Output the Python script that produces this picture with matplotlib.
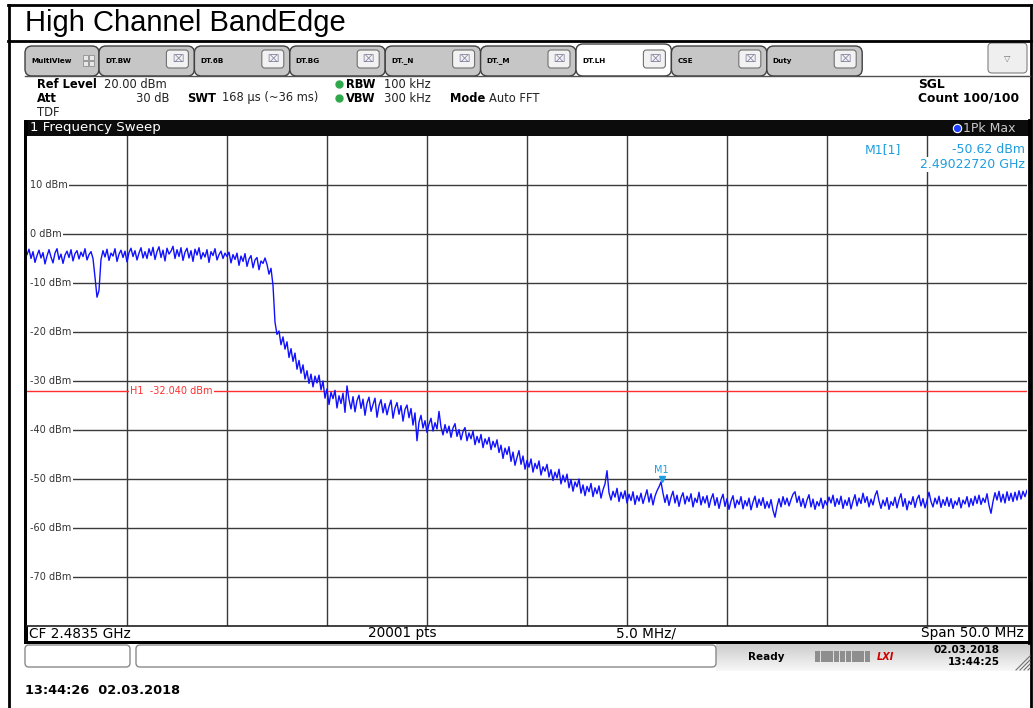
import matplotlib
matplotlib.use("Agg")
import matplotlib.pyplot as plt
import numpy as np
from matplotlib.patches import Rectangle, FancyBboxPatch
from matplotlib.transforms import blended_transform_factory

# ==== Sweep settings ====
START_GHZ = 2.4585
STOP_GHZ = 2.5085
REF_LEVEL = 20.0
BOTTOM_LEVEL = -80.0
GRID_LEVELS = [10, 0, -10, -20, -30, -40, -50, -60, -70]
GRID_LABELS = ["10 dBm", "0 dBm", "-10 dBm", "-20 dBm", "-30 dBm",
               "-40 dBm", "-50 dBm", "-60 dBm", "-70 dBm"]
H1_LEVEL = -32.04
M1_FREQ_GHZ = 2.49022720
M1_LEVEL = -50.62

# trace level, one value every 0.1 MHz across the 50 MHz span
TRACE_DBM = [
    -4.2, -3.1, -5.0, -3.6, -5.8, -4.4, -3.3, -4.9, -3.8, -6.1, -4.5, -3.2, -4.7, -5.9, -3.9, -3.0, -5.2, -4.1, -6.0, -4.3,
    -3.5, -4.8, -3.2, -5.5, -4.0, -3.4, -5.1, -3.7, -4.6, -3.0, -5.3, -4.2, -3.6, -5.0, -8.8, -12.9, -11.5, -5.2, -3.4, -4.7,
    -3.1, -5.4, -3.9, -4.5, -3.0, -5.6, -4.1, -3.3, -4.8, -3.5, -5.7, -3.8, -2.9, -4.6, -3.4, -5.3, -3.9, -2.8, -4.9, -3.6,
    -5.0, -3.0, -4.4, -2.7, -5.2, -3.6, -2.6, -4.8, -3.3, -5.5, -2.9, -4.1, -3.5, -2.5, -5.0, -3.2, -4.6, -2.8, -5.4, -3.7,
    -2.9, -4.9, -3.4, -5.6, -3.1, -4.3, -2.8, -5.1, -3.8, -4.7, -3.2, -5.8, -3.6, -4.4, -3.0, -5.3, -4.2, -3.5, -5.0, -3.9,
    -4.6, -3.7, -5.9, -4.2, -5.2, -3.9, -6.4, -4.5, -5.6, -4.0, -6.6, -5.1, -4.4, -6.9, -5.3, -4.8, -7.3, -5.5, -6.0, -4.9,
    -6.2, -8.2, -7.0, -10.5, -18.0, -20.5, -19.8, -22.6, -21.0, -23.5, -22.0, -25.2, -23.4, -26.0, -24.3, -27.6, -25.8, -28.4, -26.7, -29.6,
    -27.9, -30.5, -28.6, -31.2, -29.0, -30.4, -28.8, -31.8, -30.0, -33.5, -31.6, -34.8, -32.3, -33.6, -31.9, -35.5, -33.0, -34.6, -32.5, -36.4,
    -31.0, -33.8, -35.7, -33.2, -36.3, -34.0, -32.9, -35.6, -33.7, -37.0, -34.5, -33.3, -36.2, -34.8, -33.5, -37.4, -35.0, -33.8, -36.5, -34.6,
    -36.9, -35.2, -33.9, -37.6, -35.5, -34.4, -36.8, -35.0, -38.2, -35.8, -34.9, -37.5, -35.6, -39.0, -36.5, -42.2, -38.4, -37.0, -39.6, -38.1,
    -40.5, -38.8, -37.6, -40.2, -38.5, -39.8, -36.2, -39.4, -41.0, -38.9, -40.6, -39.2, -41.5, -39.6, -38.7, -41.3, -39.9, -42.0, -40.3, -39.5,
    -42.2, -40.6, -41.8, -40.2, -43.0, -41.3, -42.6, -40.9, -43.6, -41.8, -42.9, -41.5, -44.0, -42.3, -43.5, -42.0, -44.6, -43.1, -45.8, -43.7,
    -45.0, -43.4, -46.4, -44.5, -47.2, -45.6, -44.2, -47.0, -45.3, -48.0, -46.2, -47.6, -45.9, -48.6, -46.8, -47.9, -46.3, -49.2, -47.5, -48.4,
    -47.0, -49.6, -48.1, -50.3, -48.6, -49.8, -48.0, -51.0, -49.2, -50.6, -49.0, -51.8, -50.1, -52.5, -50.6, -51.6, -50.0, -52.9, -51.2, -53.4,
    -51.5, -52.6, -50.9, -53.6, -51.8, -53.0, -51.4, -53.9, -52.2, -51.0, -48.3, -52.8, -54.3, -52.5, -53.7, -51.9, -54.6, -52.7, -54.0, -52.4,
    -54.9, -53.1, -54.4, -52.6, -55.2, -53.4, -54.5, -52.9, -55.0, -53.6, -52.2, -54.7, -53.0, -55.3, -53.5, -52.4, -51.6, -50.6, -52.9, -54.8,
    -53.2, -55.4, -53.7, -52.5, -54.9, -53.3, -55.6, -53.8, -52.8, -55.1, -53.5, -54.6, -53.0, -55.7, -53.9, -54.8, -52.7, -55.3, -53.6, -54.9,
    -53.4, -55.8, -54.1, -53.0, -55.4, -53.8, -56.0, -54.2, -53.1, -55.6, -54.0, -56.2, -54.5, -53.4, -55.9, -54.3, -55.2, -53.6, -56.1, -54.4,
    -55.5, -53.9, -56.3, -54.7, -53.5, -55.8, -54.1, -55.4, -53.8, -56.0, -54.6, -55.9, -54.2, -56.4, -57.8, -55.6, -54.0, -55.7, -53.6, -55.2,
    -53.9, -55.5, -54.2, -53.1, -52.6, -54.8, -53.5, -55.6, -54.0, -55.9, -54.3, -53.2, -55.7, -54.1, -56.2, -54.6, -55.5, -53.9, -56.0, -54.4,
    -55.3, -53.7, -54.9, -53.3, -55.6, -54.0, -55.2, -53.5, -56.0, -54.3, -55.4, -53.8, -56.1, -54.5, -53.2, -55.5, -53.9, -55.0, -52.9, -54.8,
    -53.6, -55.7, -54.1, -55.3, -53.4, -52.4, -54.5, -56.0, -54.3, -55.5, -53.8, -56.2, -54.6, -55.4, -53.7, -55.9, -54.2, -53.0, -55.6, -54.0,
    -56.3, -54.5, -55.2, -53.6, -55.8, -54.1, -53.3, -55.5, -54.0, -55.9, -54.4, -52.7, -54.6, -55.7, -53.9, -55.1, -53.5, -55.8, -54.2, -55.4,
    -53.7, -55.6, -54.0, -56.0, -54.5, -55.3, -53.8, -55.9, -54.3, -55.1, -53.6, -55.7, -54.0, -55.4, -53.5, -55.0, -53.3, -55.2, -53.9, -54.8,
    -53.0, -55.4, -57.0, -54.6, -52.8, -54.3, -52.5, -54.7, -53.1, -54.9, -52.6, -54.4, -52.9, -54.6, -52.7, -54.3, -52.4, -54.1, -52.5, -53.6,
    -52.3,
]

TABS = ["DT.BW", "DT.6B", "DT.BG", "DT._N", "DT._M", "DT.LH", "CSE", "Duty"]
ACTIVE_TAB = "DT.LH"

# ==== Colours ====
TRACE_BLUE = "#1010ff"
MARKER_BLUE = "#1e9ee0"
H1_RED = "#ff3030"
GRID_GRAY = "#3a3a3a"
LABEL_GRAY = "#333333"

W, H = 1033, 708
fig = plt.figure(figsize=(W / 100, H / 100), dpi=100)
fig.patch.set_facecolor("white")

# ==== Screen chrome, drawn in pixel coordinates ====
bg = fig.add_axes([0, 0, 1, 1])
bg.set_xlim(0, W)
bg.set_ylim(H, 0)
bg.axis("off")

UI = "DejaVu Sans"

# outer frame and title row
bg.plot([8.5, 8.5], [5, H], color="black", lw=2)
bg.plot([8, 1031], [5, 5], color="black", lw=2)
bg.plot([8, 1031], [40.5, 40.5], color="black", lw=2)
bg.plot([1031, 1031], [5, H], color="black", lw=2)
bg.text(25, 23, "High Channel BandEdge", fontsize=21, family="Liberation Sans",
        va="center", ha="left", color="black")

# tab bar
bg.plot([25, 1030], [75.5, 75.5], color="#505050", lw=1)


def draw_tab(x0, x1, label, active=False):
    face = "white" if active else "#c6c6c6"
    top = 44 if active else 46
    bg.add_patch(FancyBboxPatch((x0, top), x1 - x0, 76 - top,
                                boxstyle="round,pad=0,rounding_size=7",
                                facecolor=face, edgecolor="#404040", lw=1))
    bg.text(x0 + 6, 61, label, fontsize=5.2, fontweight="bold", family=UI,
            va="center", ha="left", color="black")


draw_tab(25, 99, "MultiView")
for dx in (0, 6):
    for dy in (0, 6):
        bg.add_patch(Rectangle((83 + dx, 55 + dy), 5, 5, facecolor="#e8e8e8",
                               edgecolor="#909090", lw=0.6))

tab_w = 95.4
for i, name in enumerate(TABS):
    x0 = 99 + i * tab_w
    x1 = x0 + tab_w
    draw_tab(x0, x1, name, active=(name == ACTIVE_TAB))
    bx = x1 - 28
    bg.add_patch(FancyBboxPatch((bx, 50), 22, 18,
                                boxstyle="round,pad=0,rounding_size=3",
                                facecolor="#f2f2f2", edgecolor="#707070", lw=0.8))
    bg.text(bx + 11, 59, "\u2327", fontsize=7, family=UI, color="#7a7a9a",
            ha="center", va="center")

bg.add_patch(FancyBboxPatch((988, 43), 39, 30,
                            boxstyle="round,pad=0,rounding_size=4",
                            facecolor="#efefef", edgecolor="#808080", lw=0.8))
bg.text(1007.5, 58, "\u25bd", fontsize=6, family=UI, color="#707070",
        ha="center", va="center")

# setup header
HDR = 8.3
bg.text(37, 84, "Ref Level", fontsize=HDR, fontweight="bold", family=UI, va="center")
bg.text(104, 84, "20.00 dBm", fontsize=HDR, family=UI, va="center", color="#222222")
bg.text(37, 98, "Att", fontsize=HDR, fontweight="bold", family=UI, va="center")
bg.text(170, 98, "30 dB", fontsize=HDR, family=UI, va="center", ha="right", color="#222222")
bg.text(37, 112, "TDF", fontsize=HDR, family=UI, va="center", color="#222222")
bg.text(187, 98, "SWT", fontsize=HDR, fontweight="bold", family=UI, va="center")
bg.text(222, 98, "168 \u00b5s (~36 ms)", fontsize=HDR, family=UI, va="center", color="#222222")
bg.plot([339, 339], [84, 98], ls="none", marker="o", ms=5, color="#2ea84a")
bg.text(346, 84, "RBW", fontsize=HDR, fontweight="bold", family=UI, va="center")
bg.text(384, 84, "100 kHz", fontsize=HDR, family=UI, va="center", color="#222222")
bg.text(346, 98, "VBW", fontsize=HDR, fontweight="bold", family=UI, va="center")
bg.text(384, 98, "300 kHz", fontsize=HDR, family=UI, va="center", color="#222222")
bg.text(450, 98, "Mode", fontsize=HDR, fontweight="bold", family=UI, va="center")
bg.text(489, 98, "Auto FFT", fontsize=HDR, family=UI, va="center", color="#222222")
bg.text(918, 84, "SGL", fontsize=8.8, fontweight="bold", family=UI, va="center")
bg.text(918, 98, "Count 100/100", fontsize=8.8, fontweight="bold", family=UI, va="center")

# window title bar
bg.add_patch(Rectangle((24, 120), 1006, 16, facecolor="#0c0c0c", edgecolor="none"))
bg.text(30, 128, "1 Frequency Sweep", fontsize=9.6, family=UI, color="white", va="center")
bg.plot([957], [128], marker="o", ms=6, color="#2040ff", mec="white", mew=0.8)
bg.text(963, 128, "1Pk Max", fontsize=9, family=UI, color="#c8c8c8", va="center")

# frame around the diagram
bg.add_patch(Rectangle((24, 120), 4, 523, facecolor="black", edgecolor="none"))
bg.plot([1029, 1029], [120, 643], color="black", lw=2)
bg.add_patch(Rectangle((24, 640.5), 1006, 3, facecolor="black", edgecolor="none"))

# footer of the diagram
FT = 9.8
bg.text(29, 633.5, "CF 2.4835 GHz", fontsize=FT, family=UI, va="center")
bg.text(402, 633.5, "20001 pts", fontsize=FT, family=UI, va="center", ha="center")
bg.text(646, 633.5, "5.0 MHz/", fontsize=FT, family=UI, va="center", ha="center")
bg.text(1024, 633.5, "Span 50.0 MHz", fontsize=FT, family=UI, va="center", ha="right")

# status bar
grad = np.linspace(0.80, 0.97, 32).reshape(-1, 1)
bg.imshow(grad, extent=(716, 1030, 671, 644), cmap="gray", vmin=0, vmax=1,
          aspect="auto", zorder=0)
bg.add_patch(FancyBboxPatch((25, 645), 105, 22, boxstyle="round,pad=0,rounding_size=4",
                            facecolor="white", edgecolor="#8a8a8a", lw=1))
bg.add_patch(FancyBboxPatch((136, 645), 580, 22, boxstyle="round,pad=0,rounding_size=4",
                            facecolor="white", edgecolor="#8a8a8a", lw=1))
bg.text(748, 657, "Ready", fontsize=7.5, fontweight="bold", family=UI, va="center")
for k in range(9):
    bg.add_patch(Rectangle((815 + k * 6.2, 651), 5.4, 11, facecolor="#8e8e8e",
                           edgecolor="none"))
bg.text(877, 656.5, "LXI", fontsize=7, fontweight="bold", style="italic",
        family=UI, color="#d00000", va="center")
bg.text(1000, 650, "02.03.2018", fontsize=7.5, fontweight="bold", family=UI,
        va="center", ha="right")
bg.text(1000, 662, "13:44:25", fontsize=7.5, fontweight="bold", family=UI,
        va="center", ha="right")
for k in range(4):
    bg.plot([1016 + k * 4, 1030], [670, 656 + k * 4], color="#707070", lw=0.8)

bg.text(25, 690, "13:44:26  02.03.2018", fontsize=9.3, fontweight="bold",
        family=UI, va="center")

# ==== Diagram ====
ax = fig.add_axes([27 / W, (H - 626) / H, 1000 / W, 490 / H])
ax.set_zorder(2)
ax.set_facecolor("white")
ax.set_xlim(START_GHZ, STOP_GHZ)
ax.set_ylim(BOTTOM_LEVEL, REF_LEVEL)
ax.set_xticks([])
ax.set_yticks([])
for side in ("top", "left", "right"):
    ax.spines[side].set_visible(False)
ax.spines["bottom"].set_color("#202020")
ax.spines["bottom"].set_linewidth(1.2)

div = (STOP_GHZ - START_GHZ) / 10
for k in range(1, 10):
    ax.axvline(START_GHZ + k * div, color=GRID_GRAY, lw=1, zorder=1)
lab_tr = blended_transform_factory(ax.transAxes, ax.transData)
for lvl, lab in zip(GRID_LEVELS, GRID_LABELS):
    ax.axhline(lvl, xmin=0.004, color=GRID_GRAY, lw=1, zorder=1)
    ax.text(0.003, lvl, lab, transform=lab_tr, fontsize=7, family=UI,
            color=LABEL_GRAY, va="center", ha="left", zorder=3,
            bbox=dict(facecolor="white", edgecolor="none", pad=1.2))

# display line H1
ax.axhline(H1_LEVEL, color=H1_RED, lw=1, zorder=2)
ax.text(0.103, H1_LEVEL, "H1  -32.040 dBm", transform=lab_tr, fontsize=7,
        family=UI, color=H1_RED, va="center", ha="left", zorder=2.5,
        bbox=dict(facecolor="white", edgecolor="none", pad=0.8))

# trace
freqs = np.linspace(START_GHZ, STOP_GHZ, len(TRACE_DBM))
ax.plot(freqs, TRACE_DBM, color=TRACE_BLUE, lw=1.0, zorder=4)

# marker M1
ax.plot([M1_FREQ_GHZ], [M1_LEVEL + 0.6], marker="v", ms=5, color=MARKER_BLUE,
        zorder=5)
ax.text(M1_FREQ_GHZ, M1_LEVEL + 1.4, "M1", fontsize=7, family=UI,
        color=MARKER_BLUE, ha="center", va="bottom", zorder=5)

MK = 9
ax.text(0.838, 0.985, "M1[1]", transform=ax.transAxes, fontsize=MK, family=UI,
        color=MARKER_BLUE, ha="left", va="top", zorder=6)
ax.text(0.998, 0.985, "-50.62 dBm", transform=ax.transAxes, fontsize=MK,
        family=UI, color=MARKER_BLUE, ha="right", va="top", zorder=6,
        bbox=dict(facecolor="white", edgecolor="none", pad=0.5))
ax.text(0.998, 0.955, "2.49022720 GHz", transform=ax.transAxes, fontsize=MK,
        family=UI, color=MARKER_BLUE, ha="right", va="top", zorder=6,
        bbox=dict(facecolor="white", edgecolor="none", pad=1.0))

fig.savefig("out.png", dpi=100, facecolor="white")
